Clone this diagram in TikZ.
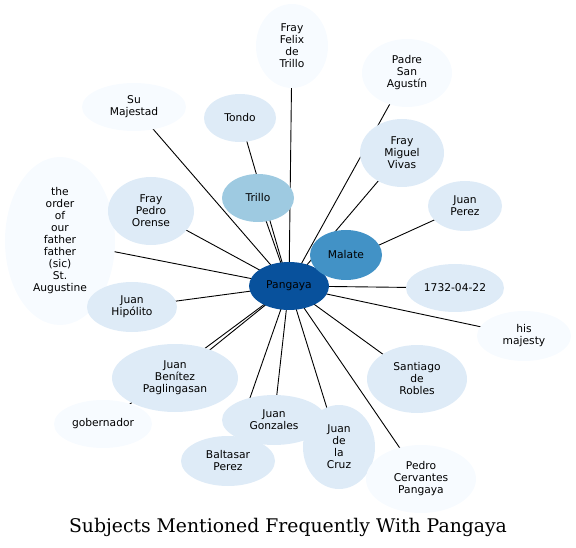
\documentclass[tikz,border=0pt]{standalone}
\usepackage{fontspec}
\usepackage{xcolor}
\usepackage{tikz}
\usetikzlibrary{shapes.geometric,backgrounds}
\newfontfamily\entfont{DejaVu Sans}
\newfontfamily\titlefont{DejaVu Serif}
\definecolor{pgDark} {RGB}{8,   81, 156}
\definecolor{pgMid}  {RGB}{66, 146, 198}
\definecolor{pgSoft} {RGB}{158,202, 225}
\definecolor{pgPale} {RGB}{222,235, 247}
\definecolor{pgFaint}{RGB}{247,251, 255}
\tikzset{
  ent/.style={ellipse,inner sep=0pt,align=center,
              font=\entfont\fontsize{10.7}{12}\selectfont},
  faint/.style={ent,fill=pgFaint},
  pale/.style={ent,fill=pgPale},
  link/.style={black,line width=0.9pt}
}

\begin{document}
\begin{tikzpicture}[x=1pt,y=-1pt]
    \useasboundingbox (0,0) rectangle (576,548);

    % ── centre ─────────────────────────────────────────────
    \node[ent,fill=pgDark,minimum width=80,minimum height=48] (pangaya) at (289,286){Pangaya};

    % ── upper half ────────────────────────────────────────
    \node[faint,minimum width=72,minimum height=84] (felix) at (292,46){Fray\\Felix\\de\\Trillo};
    \node[faint,minimum width=90,minimum height=68] (agustin) at (407,73){Padre\\San\\Agustín};
    \node[faint,minimum width=104,minimum height=48] (sumaj) at (134,107){Su\\Majestad};
    \node[pale,minimum width=72,minimum height=48] (tondo) at (240,118){Tondo};
    \node[ent,fill=pgSoft,minimum width=72,minimum height=48] (trillo) at (258,198){Trillo};
    \node[pale,minimum width=84,minimum height=68] (vivas) at (402,153){Fray\\Miguel\\Vivas};
    \node[pale,minimum width=74,minimum height=50] (jperez) at (465,206){Juan\\Perez};
    \node[ent,fill=pgMid,minimum width=72,minimum height=50] (malate) at (346,255){Malate};
    \node[faint,minimum width=110,minimum height=168] (order) at (60,241)
      {the\\order\\of\\our\\father\\father\\(sic)\\St.\\Augustine};
    \node[pale,minimum width=86,minimum height=68] (orense) at (151,211){Fray\\Pedro\\Orense};

    % ── lower half ────────────────────────────────────────
    \node[pale,minimum width=90,minimum height=50] (hipolito) at (132,307){Juan\\Hipólito};
    \node[pale,minimum width=98,minimum height=48] (fecha) at (455,288){1732-04-22};
    \node[faint,minimum width=94,minimum height=50] (hismaj) at (524,336){his\\majesty};
    \node[pale,minimum width=126,minimum height=68] (benitez) at (175,378){Juan\\Benítez\\Paglingasan};
    \node[faint,minimum width=98,minimum height=48] (gober) at (103,424){gobernador};
    \node[pale,minimum width=100,minimum height=68] (robles) at (417,379){Santiago\\de\\Robles};
    \node[pale,minimum width=104,minimum height=50] (gonzales) at (274,420){Juan\\Gonzales};
    \node[pale,minimum width=94,minimum height=50] (baltasar) at (228,461){Baltasar\\Perez};
    \node[pale,minimum width=72,minimum height=84] (cruz) at (339,447){Juan\\de\\la\\Cruz};
    \node[faint,minimum width=110,minimum height=68] (cervantes) at (421,479){Pedro\\Cervantes\\Pangaya};

    % connectors (kept behind the ellipses)
    \begin{scope}[on background layer]
      \foreach \other in {felix,agustin,sumaj,tondo,trillo,vivas,jperez,malate,
                          order,orense,hipolito,fecha,hismaj,benitez,gober,
                          robles,gonzales,baltasar,cruz,cervantes}
        \draw[link] (pangaya.center) -- (\other.center);
    \end{scope}

    % titulo
    \node[font=\titlefont\fontsize{18.8}{22}\selectfont] (titulo) at (288,527)
      {Subjects Mentioned Frequently With Pangaya};

\end{tikzpicture}
\end{document}
